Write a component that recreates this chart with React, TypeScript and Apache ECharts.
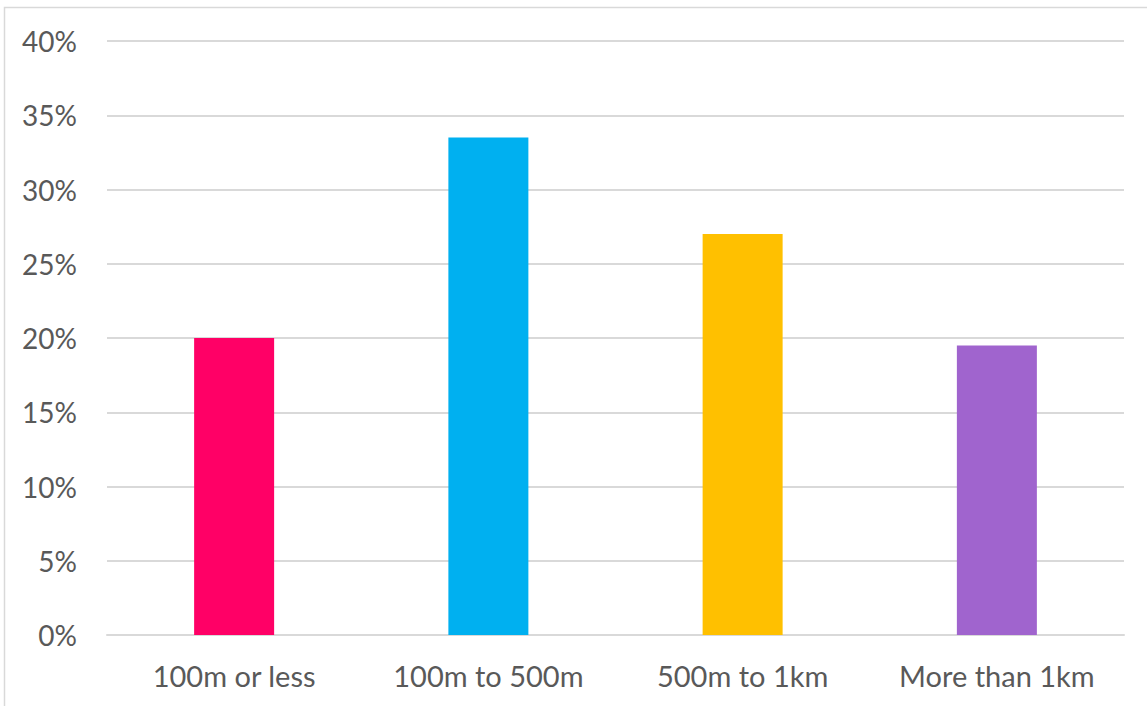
import React, { useEffect, useRef } from "react";
import * as echarts from "echarts";

const categories = ["100m or less", "100m to 500m", "500m to 1km", "More than 1km"];
const values = [20.0, 33.5, 27.0, 19.5];
const barColors = ["#FF0066", "#00B0F0", "#FFC000", "#A064CE"];
const yTicks = { min: 0, max: 40, interval: 5 };

export default function App() {
  const ref = useRef<HTMLDivElement>(null);
  useEffect(() => {
    if (!ref.current) return;
    const chart = echarts.init(ref.current, null, { renderer: "svg" });
    chart.setOption({
      animation: false,
      backgroundColor: "#ffffff",
      textStyle: { fontFamily: "Lato, Open Sans, sans-serif" },
      graphic: [
        {
          type: "rect",
          shape: { x: 4.5, y: 7.5, width: 1200, height: 800 },
          style: { fill: "none", stroke: "#d9d9d9", lineWidth: 1.5 },
          silent: true,
        },
      ],
      grid: { left: 107, right: 23, top: 41, bottom: 71, containLabel: false },
      xAxis: {
        type: "category",
        data: categories,
        axisLine: { show: true, lineStyle: { color: "#d9d9d9", width: 2 } },
        axisTick: { show: false },
        axisLabel: { color: "#595959", fontSize: 29, margin: 26, interval: 0, hideOverlap: false },
      },
      yAxis: {
        type: "value",
        min: yTicks.min,
        max: yTicks.max,
        interval: yTicks.interval,
        axisLine: { show: false },
        axisTick: { show: false },
        splitLine: { lineStyle: { color: "#d9d9d9", width: 2 } },
        axisLabel: {
          color: "#595959",
          fontSize: 28,
          margin: 30,
          formatter: (v: number) => `${v}%`,
        },
      },
      series: [
        {
          type: "bar",
          barWidth: 80,
          data: values.map((v, i) => ({ value: v, itemStyle: { color: barColors[i] } })),
        },
      ],
    });
    return () => chart.dispose();
  }, []);
  return (
    <div
      ref={ref}
      style={{ position: "fixed", left: 0, top: 0, width: 1147, height: 706 }}
    />
  );
}
